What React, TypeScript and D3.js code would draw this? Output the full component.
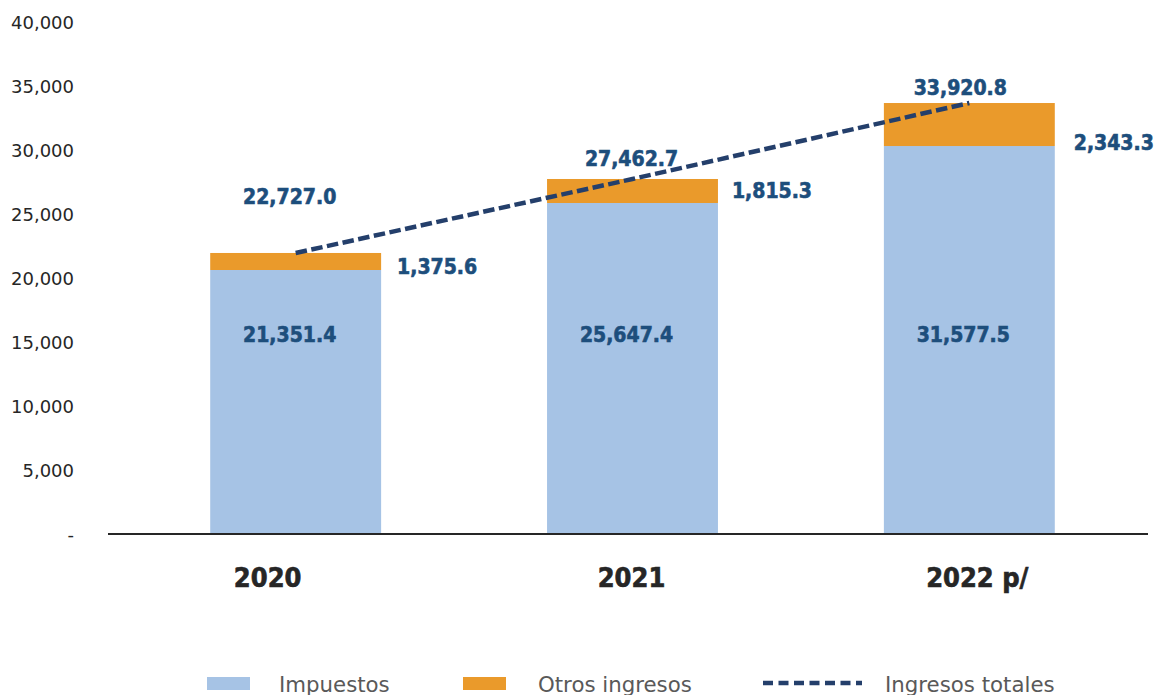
import React from "react";
import * as d3 from "d3";

// ---- data ----
const categories = ["2020", "2021", "2022 p/"];
// plotted heights as drawn in the reference
const impuestos = [20625, 25860, 30310];
const otrosIngresos = [1330, 1875, 3360];
// printed labels
const impuestosLabels = [21351.4, 25647.4, 31577.5];
const otrosLabels = [1375.6, 1815.3, 2343.3];
const totalLabels = [22727.0, 27462.7, 33920.8];
const yTicks = [0, 5000, 10000, 15000, 20000, 25000, 30000, 35000, 40000];
const legendItems = ["Impuestos", "Otros ingresos", "Ingresos totales"];

// ---- layout / style ----
const W = 1161;
const H = 695;
const BLUE = "#A6C3E5";
const ORANGE = "#EA9A2B";
const LINE = "#243F6B";
const LABEL = "#1D4E7C";
const AXIS = "#262626";
const VALUE_FONT = "'DejaVu Sans Condensed', 'DejaVu Sans', sans-serif";
const totalOffsets = [
  { dx: -6, dy: -56 },
  { dx: -1, dy: -20 },
  { dx: -9, dy: -15 },
];
const otrosOffsets = [
  { dx: 56, dy: 6 },
  { dx: 54, dy: 0 },
  { dx: 59, dy: 18 },
];
const impuestosLabelY = 335;
const catLabelDx = [-28, -1, 8];

const fmt = d3.format(",.1f");
const fmtTick = (v: number) => (v === 0 ? "-" : d3.format(",")(v));

export default function App() {
  const y = d3.scaleLinear().domain([0, 40000]).range([534, 22]);
  const x = d3
    .scaleBand<string>()
    .domain(categories)
    .range([126, 1139])
    .paddingInner(0.4926)
    .paddingOuter(0.25);
  const bw = x.bandwidth();
  const cx = (c: string) => (x(c) as number) + bw / 2;

  const totals = categories.map((_, i) => impuestos[i] + otrosIngresos[i]);
  const line = d3
    .line<number>()
    .x((_, i) => cx(categories[i]))
    .y((d) => y(d));

  return (
    <svg width={W} height={H} style={{ position: "absolute", left: 0, top: 0 }}>
      <rect width={W} height={H} fill="#fff" />
      {/* y tick labels */}
      {yTicks.map((t) => (
        <text
          key={t}
          x={74}
          y={y(t)}
          textAnchor="end"
          dominantBaseline="central"
          fontFamily="'DejaVu Sans', sans-serif"
          fontSize={18}
          fill={AXIS}
        >
          {fmtTick(t)}
        </text>
      ))}
      {/* bars */}
      {categories.map((c, i) => (
        <g key={c}>
          <rect
            x={x(c)}
            width={bw}
            y={y(impuestos[i])}
            height={y(0) - y(impuestos[i])}
            fill={BLUE}
          />
          <rect
            x={x(c)}
            width={bw}
            y={y(totals[i])}
            height={y(impuestos[i]) - y(totals[i])}
            fill={ORANGE}
          />
        </g>
      ))}
      {/* axis line */}
      <line x1={108} x2={1148} y1={y(0)} y2={y(0)} stroke={AXIS} strokeWidth={2} />
      {/* total line */}
      <path
        d={line(totals) || ""}
        fill="none"
        stroke={LINE}
        strokeWidth={4.5}
        strokeDasharray="11.5 4.5"
      />
      {/* labels */}
      {categories.map((c, i) => (
        <g
          key={"l" + c}
          fontFamily={VALUE_FONT}
          fontWeight="bold"
          fontSize={21}
          fill={LABEL}
          stroke={LABEL}
          strokeWidth={0.6}
        >
          <text
            x={cx(c) + totalOffsets[i].dx}
            y={y(totals[i]) + totalOffsets[i].dy}
            textAnchor="middle"
            dominantBaseline="central"
          >
            {fmt(totalLabels[i])}
          </text>
          <text
            x={(x(c) as number) + bw + otrosOffsets[i].dx}
            y={(y(totals[i]) + y(impuestos[i])) / 2 + otrosOffsets[i].dy}
            textAnchor="middle"
            dominantBaseline="central"
          >
            {fmt(otrosLabels[i])}
          </text>
          <text x={cx(c) - 6} y={impuestosLabelY} textAnchor="middle" dominantBaseline="central">
            {fmt(impuestosLabels[i])}
          </text>
        </g>
      ))}
      {/* category labels */}
      {categories.map((c, i) => (
        <text
          key={"c" + c}
          x={cx(c) + catLabelDx[i]}
          y={577}
          textAnchor="middle"
          dominantBaseline="central"
          fontFamily={VALUE_FONT}
          fontWeight="bold"
          fontSize={27}
          fill={AXIS}
          stroke={AXIS}
          strokeWidth={0.6}
        >
          {c}
        </text>
      ))}
      {/* legend */}
      <g fontFamily="'DejaVu Sans', sans-serif" fontSize={21.3} fill="#595959">
        <rect x={207} y={677} width={43} height={13} fill={BLUE} />
        <text x={279} y={684} dominantBaseline="central">{legendItems[0]}</text>
        <rect x={463} y={677} width={43} height={13} fill={ORANGE} />
        <text x={538} y={684} dominantBaseline="central">{legendItems[1]}</text>
        <line
          x1={763}
          x2={862}
          y1={683}
          y2={683}
          stroke={LINE}
          strokeWidth={4.5}
          strokeDasharray="10 5.5"
        />
        <text x={885} y={684} dominantBaseline="central">{legendItems[2]}</text>
      </g>
    </svg>
  );
}
